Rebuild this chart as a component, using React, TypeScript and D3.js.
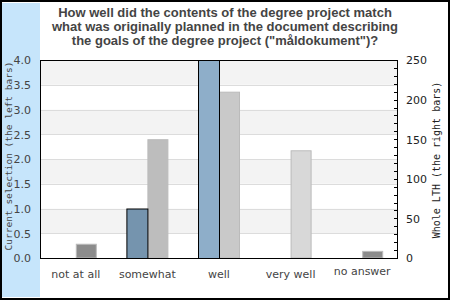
import React, { useEffect } from "react";
import * as d3 from "d3";

const categories = ["not at all", "somewhat", "well", "very well", "no answer"];
const currentSelection = [0, 1, 4, 0, 0];
const wholeLTH = [18, 150, 210, 136, 9];
const leftTicks = [0, 0.5, 1, 1.5, 2, 2.5, 3, 3.5, 4];
const rightTicks = [0, 50, 100, 150, 200, 250];
const titleLines = [
  "How well did the contents of the degree project match",
  "what was originally planned in the document describing",
  'the goals of the degree project ("måldokument")?',
];
const leftFill = ["#7594ae", "#7594ae", "#8eaec9", "#8eaec9", "#7594ae"];
const rightFill = ["#8c8c8c", "#bdbdbd", "#c9c9c9", "#d8d8d8", "#8c8c8c"];

const W = 450, H = 300;
const L = 40, R = 398, T = 60, B = 258;

export default function App() {
  useEffect(() => {
    document.body.style.margin = "0";
  }, []);
  const x = d3.scaleBand().domain(categories).range([L, R]);
  const yL = d3.scaleLinear().domain([0, 4]).range([B, T]);
  const yR = d3.scaleLinear().domain([0, 250]).range([B, T]);
  const bw = 21;
  const bands = d3.range(0, 4, 0.5);
  const minor = d3.range(0, 251, 10);
  return (
    <svg width={W} height={H} style={{ position: "absolute", left: 0, top: 0 }}>
      <rect x={0} y={0} width={W} height={H} fill="#fff" />
      <rect x={1} y={3} width={39} height={294} fill="#c6e5fb" />
      <rect x={1} y={1} width={W - 2} height={H - 2} fill="none" stroke="#000" strokeWidth={2} />
      {titleLines.map((t, i) => (
        <text key={i} x={225} y={17 + i * 14} textAnchor="middle" fontFamily="Liberation Sans, Arial" fontWeight="bold" fontSize={13} fill="#444">
          {t}
        </text>
      ))}
      {bands.map((v, i) => (
        <rect key={v} x={L} y={yL(v + 0.5)} width={R - L} height={yL(v) - yL(v + 0.5)} fill={i % 2 === 1 ? "#f3f3f3" : "#fff"} />
      ))}
      {leftTicks.slice(1, -1).map((v) => (
        <line key={v} x1={L} x2={R} y1={Math.round(yL(v)) + 0.5} y2={Math.round(yL(v)) + 0.5} stroke="#dcdcdc" />
      ))}
      {categories.map((c, i) => {
        const cx = (x(c) as number) + x.bandwidth() / 2;
        return (
          <g key={c}>
            {wholeLTH[i] > 0 && (
              <rect x={cx + 0.5} y={yR(wholeLTH[i]) + 0.5} width={bw - 1} height={B - yR(wholeLTH[i]) - 0.5} fill={rightFill[i]} stroke="#bbbbbb" />
            )}
            {currentSelection[i] > 0 && (
              <rect x={cx - bw + 0.5} y={yL(currentSelection[i]) + 0.5} width={bw} height={B - yL(currentSelection[i])} fill={leftFill[i]} stroke="#000" />
            )}
            <text x={cx} y={278 - (i === 4 ? 3 : 0)} textAnchor="middle" fontFamily="DejaVu Sans" fontSize={11} fill="#444">
              {c}
            </text>
          </g>
        );
      })}
      {minor.map((v) => (
        <line key={v} x1={R - 4} x2={R} y1={Math.round(yR(v)) + 0.5} y2={Math.round(yR(v)) + 0.5} stroke="#000" />
      ))}
      <rect x={L + 0.5} y={T + 0.5} width={R - L - 1} height={B - T} fill="none" stroke="#000" />
      {leftTicks.map((v) => (
        <text key={v} x={31} y={yL(v)} dy="0.4em" textAnchor="end" fontFamily="DejaVu Sans" fontSize={11} fill="#444">
          {d3.format(".1f")(v)}
        </text>
      ))}
      {rightTicks.map((v) => (
        <text key={v} x={406} y={yR(v)} dy="0.4em" textAnchor="start" fontFamily="DejaVu Sans" fontSize={11} fill="#222">
          {v}
        </text>
      ))}
      <text transform="translate(12,156) rotate(-90)" textAnchor="middle" fontFamily="DejaVu Sans Mono" fontSize={9.5} fill="#444">
        Current selection (the left bars)
      </text>
      <text transform="translate(440,160) rotate(-90)" textAnchor="middle" fontFamily="DejaVu Sans Mono" fontSize={10} fill="#222">
        Whole LTH (the right bars)
      </text>
    </svg>
  );
}
